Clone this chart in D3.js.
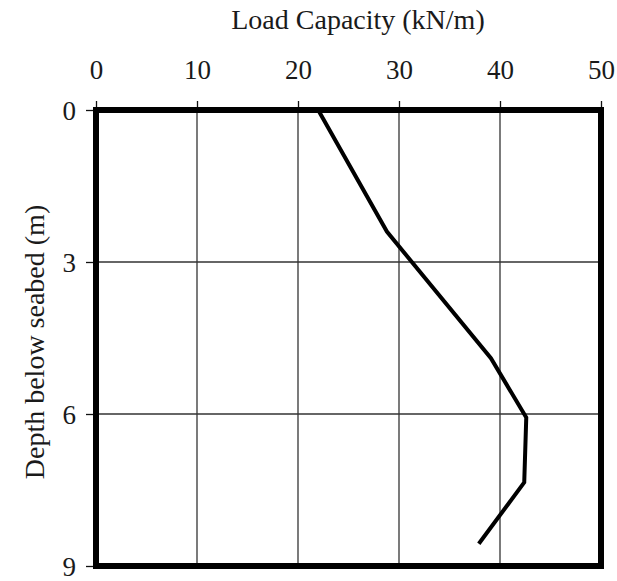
<!DOCTYPE html>
<html>
  <head>
    <meta charset="utf-8">
    <title>Load Capacity</title>
    <style>
      body { margin: 0; background: #fff; }
    </style>
  </head>
  <body>
    <script src="https://d3js.org/d3.v7.min.js"></script>
    <script>
      // values
      var loadCapacity = [22, 28.8, 39.1, 42.6, 42.4, 37.9];
      var depthValues  = [0, 2.4, 4.9, 6.07, 7.35, 8.56];
      var xTicks = [0, 10, 20, 30, 40, 50];
      var yTicks = [0, 3, 6, 9];

      var W = 617, H = 581;
      var serif = "Liberation Serif";

      var svg = d3.select("body").append("svg")
        .attr("width", W)
        .attr("height", H);

      var x = d3.scaleLinear().domain([0, 50]).range([96, 601]);
      var y = d3.scaleLinear().domain([0, 9]).range([110, 566]);

      // grid lines
      svg.append("g").selectAll("line").data(xTicks).enter().append("line")
        .attr("x1", function(d) { return x(d); })
        .attr("x2", function(d) { return x(d); })
        .attr("y1", y(0))
        .attr("y2", y(9))
        .style("stroke", "#333")
        .style("stroke-width", 1.3);

      svg.append("g").selectAll("line").data(yTicks).enter().append("line")
        .attr("x1", x(0))
        .attr("x2", x(50))
        .attr("y1", function(d) { return y(d); })
        .attr("y2", function(d) { return y(d); })
        .style("stroke", "#333")
        .style("stroke-width", 1.3);

      // axes, ticks sticking out of the frame
      var xAxis = d3.axisTop(x).tickValues(xTicks).tickSize(9).tickPadding(22);
      var gx = svg.append("g").attr("transform", "translate(0," + y(0) + ")").call(xAxis);
      var yAxis = d3.axisLeft(y).tickValues(yTicks).tickSize(10).tickPadding(10);
      var gy = svg.append("g").attr("transform", "translate(" + x(0) + ",0)").call(yAxis);

      [gx, gy].forEach(function(g) {
        g.attr("font-family", serif).attr("font-size", 27);
        g.select(".domain").remove();
        g.selectAll(".tick line").style("stroke", "#111").style("stroke-width", 1.3);
        g.selectAll(".tick text").attr("fill", "#1a1a1a");
      });
      gy.selectAll(".tick text").attr("dy", "0.34em");

      // thick frame
      svg.append("rect")
        .attr("x", x(0))
        .attr("y", y(0))
        .attr("width", x(50) - x(0))
        .attr("height", y(9) - y(0))
        .style("fill", "none")
        .style("stroke", "#000")
        .style("stroke-width", 6);

      // the curve
      var pts = loadCapacity.map(function(v, i) { return [v, depthValues[i]]; });
      var line = d3.line()
        .x(function(d) { return x(d[0]); })
        .y(function(d) { return y(d[1]); });

      svg.append("path")
        .datum(pts)
        .attr("d", line)
        .style("fill", "none")
        .style("stroke", "#000")
        .style("stroke-width", 4);

      // titles
      svg.append("text")
        .attr("x", 358)
        .attr("y", 29)
        .attr("text-anchor", "middle")
        .attr("font-family", serif)
        .attr("font-size", 28)
        .attr("fill", "#1a1a1a")
        .text("Load Capacity (kN/m)");

      svg.append("text")
        .attr("transform", "translate(44,342)rotate(-90)")
        .attr("text-anchor", "middle")
        .attr("font-family", serif)
        .attr("font-size", 28)
        .attr("fill", "#1a1a1a")
        .text("Depth below seabed (m)");
    </script>
  </body>
</html>
